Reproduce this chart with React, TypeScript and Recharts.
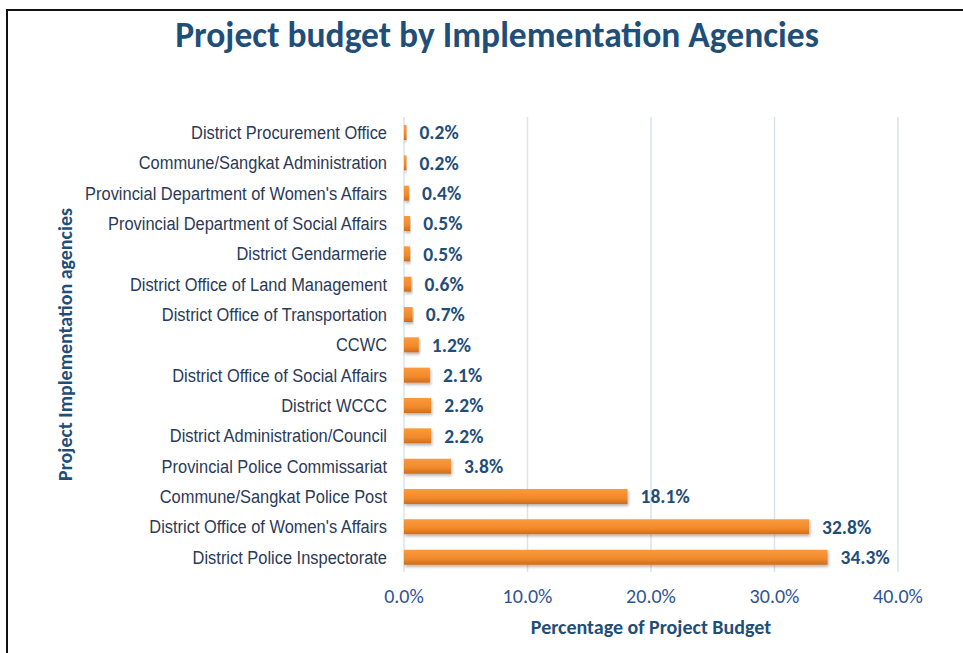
import { Bar, BarChart, CartesianGrid, Label, LabelList, XAxis, YAxis } from "recharts";

const agencies = [
  "District Procurement Office",
  "Commune/Sangkat Administration",
  "Provincial Department of Women's Affairs",
  "Provincial Department of Social Affairs",
  "District Gendarmerie",
  "District Office of Land Management",
  "District Office of Transportation",
  "CCWC",
  "District Office of Social Affairs",
  "District WCCC",
  "District Administration/Council",
  "Provincial Police Commissariat",
  "Commune/Sangkat Police Post",
  "District Office of Women's Affairs",
  "District Police Inspectorate",
];

const budgetPct = [0.2, 0.2, 0.4, 0.5, 0.5, 0.6, 0.7, 1.2, 2.1, 2.2, 2.2, 3.8, 18.1, 32.8, 34.3];

const xTicks = [0, 10, 20, 30, 40];

const data = agencies.map((name, i) => ({ name, pct: budgetPct[i] }));

const blue = "#1f4e79";
const calibri = "Carlito, Calibri, Lato, sans-serif";

// arial narrow look-alike: squeeze Liberation Sans horizontally
function AgencyTick(props: any) {
  const { x, y, payload } = props;
  return (
    <g transform={`translate(${x},${y}) scale(0.865,1)`}>
      <text
        x={0}
        y={0}
        dy="0.36em"
        textAnchor="end"
        fill="#2b3a58"
        fontSize={19}
        fontFamily="'Liberation Sans', Arial, sans-serif"
      >
        {payload.value}
      </text>
    </g>
  );
}

export default function App() {
  return (
    <div style={{ position: "absolute", left: 0, top: 0, width: 963, height: 653, background: "#fff", overflow: "hidden" }}>
      <div
        style={{
          position: "absolute",
          left: 6,
          top: 9,
          width: 1000,
          height: 700,
          border: "2px solid #111",
          boxSizing: "border-box",
        }}
      />
      <div
        style={{
          position: "absolute",
          left: 0,
          width: 994,
          top: 13,
          textAlign: "center",
          fontFamily: calibri,
          fontWeight: 700,
          fontSize: 35.5,
          color: blue,
        }}
      >
        Project budget by Implementation Agencies
      </div>
      <div style={{ position: "absolute", left: 0, top: 0 }}>
        <BarChart
          width={963}
          height={653}
          data={data}
          layout="vertical"
          margin={{ top: 117, right: 65, bottom: 0, left: 0 }}
        >
          <defs>
            <linearGradient id="barGrad" x1="0" y1="0" x2="0" y2="1">
              <stop offset="0%" stopColor="#fb9a3c" />
              <stop offset="60%" stopColor="#f08a2c" />
              <stop offset="100%" stopColor="#d06c1c" />
            </linearGradient>
            <filter id="barShadow" x="-5%" y="-30%" width="115%" height="190%">
              <feDropShadow dx="1" dy="2" stdDeviation="1.5" floodColor="#000" floodOpacity="0.3" />
            </filter>
          </defs>
          <CartesianGrid horizontal={false} stroke="#d9e3f1" strokeWidth={1.5} />
          <XAxis
            type="number"
            domain={[0, 40]}
            ticks={xTicks}
            height={81}
            axisLine={false}
            tickLine={false}
            tickFormatter={(v: number) => `${v.toFixed(1)}%`}
            tick={{ fill: "#2f5496", fontSize: 20, fontFamily: calibri }}
            tickMargin={11}
          >
            <Label
              value="Percentage of Project Budget"
              position="insideBottom"
              offset={19}
              style={{ fill: blue, fontSize: 20, fontWeight: 700, fontFamily: calibri }}
            />
          </XAxis>
          <YAxis
            type="category"
            dataKey="name"
            width={404}
            axisLine={false}
            tickLine={false}
            interval={0}
            tickMargin={11}
            tick={<AgencyTick />}
          >
            <Label
              value="Project Implementation agencies"
              angle={-90}
              position="insideLeft"
              offset={65}
              style={{ textAnchor: "middle", fill: blue, fontSize: 20, fontWeight: 700, fontFamily: calibri }}
            />
          </YAxis>
          <Bar dataKey="pct" barSize={15} fill="url(#barGrad)" filter="url(#barShadow)" isAnimationActive={false}>
            <LabelList
              dataKey="pct"
              position="right"
              offset={13}
              formatter={(v: number) => `${v.toFixed(1)}%`}
              style={{ fill: blue, fontSize: 19.5, fontWeight: 700, fontFamily: calibri }}
            />
          </Bar>
        </BarChart>
      </div>
    </div>
  );
}
